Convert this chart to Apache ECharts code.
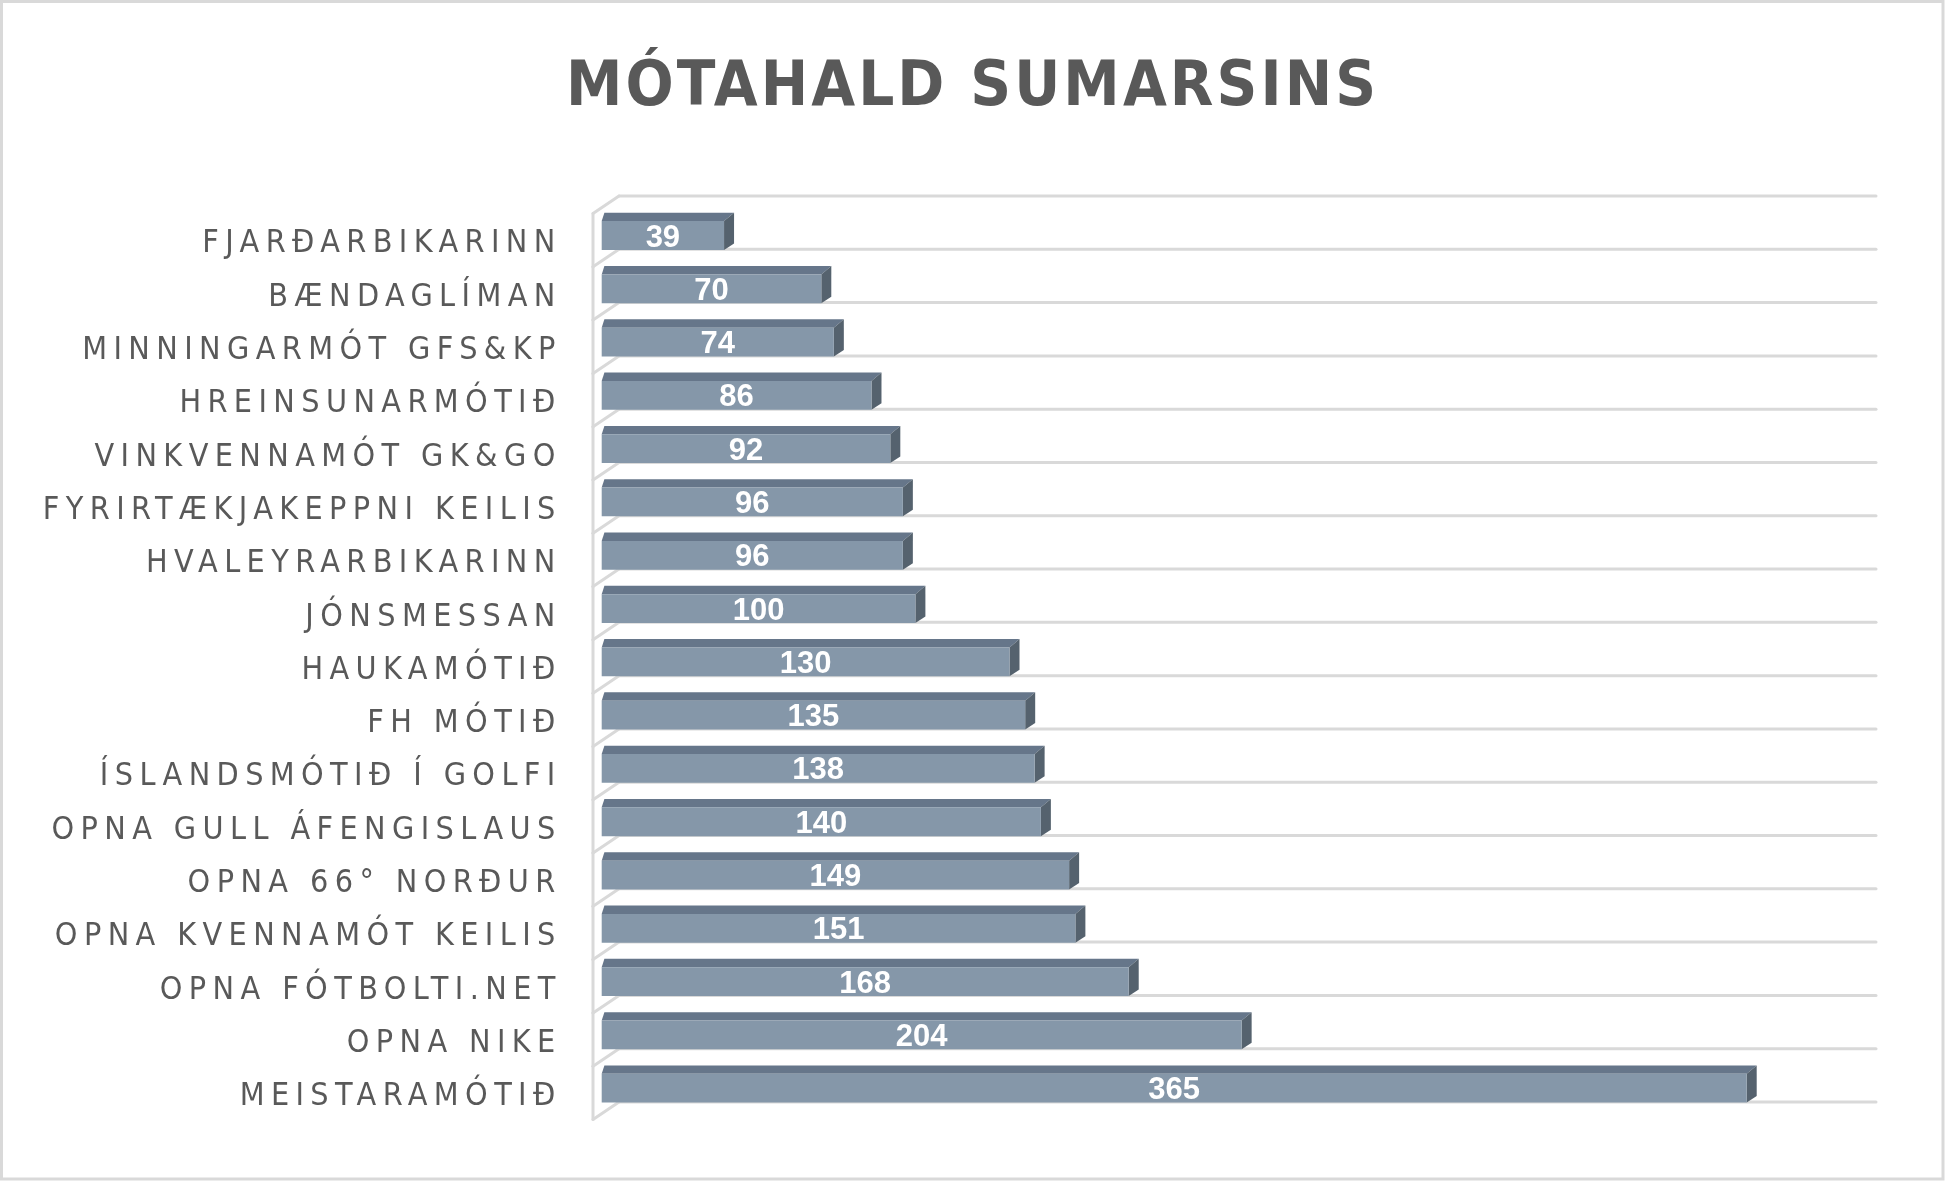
<!DOCTYPE html>
<html>
<head>
<meta charset="utf-8">
<script src="https://cdn.jsdelivr.net/npm/echarts@6/dist/echarts.min.js"></script>
<style>
html,body{margin:0;padding:0;background:#fff;}
#c{width:1945px;height:1181px;}
</style>
</head>
<body>
<div id="c"></div>
<script>
// ---- data ----
const titleText = 'MÓTAHALD SUMARSINS';
const categories = [
  'FJARÐARBIKARINN',
  'BÆNDAGLÍMAN',
  'MINNINGARMÓT GFS&KP',
  'HREINSUNARMÓTIÐ',
  'VINKVENNAMÓT GK&GO',
  'FYRIRTÆKJAKEPPNI KEILIS',
  'HVALEYRARBIKARINN',
  'JÓNSMESSAN',
  'HAUKAMÓTIÐ',
  'FH MÓTIÐ',
  'ÍSLANDSMÓTIÐ Í GOLFI',
  'OPNA GULL ÁFENGISLAUS',
  'OPNA 66° NORÐUR',
  'OPNA KVENNAMÓT KEILIS',
  'OPNA FÓTBOLTI.NET',
  'OPNA NIKE',
  'MEISTARAMÓTIÐ'
];
const values = [39, 70, 74, 86, 92, 96, 96, 100, 130, 135, 138, 140, 149, 151, 168, 204, 365];
const axisMax = 400;

// letter spacing for the spaced caps texts (canvas native letterSpacing)
(function () {
  const P = CanvasRenderingContext2D.prototype;
  const orig = P.fillText;
  P.fillText = function (t, x, y, mw) {
    const f = this.font || '';
    let ls = '0px';
    const m = f.match(/(\d+(?:\.\d+)?)px/);
    if (f.indexOf('Condensed') >= 0 && m) {
      const s = parseFloat(m[1]);
      ls = (s >= 50 ? 3.1 : 6.4) + 'px';
    }
    try { this.letterSpacing = ls; } catch (e) {}
    return mw === undefined ? orig.call(this, t, x, y) : orig.call(this, t, x, y, mw);
  };
})();

const chart = echarts.init(document.getElementById('c'), null, {renderer: 'canvas', width: 1945, height: 1181});

const WALL = '#d9d9d9';
const FRONT = '#8597a9';
const TOP = '#66768a';
const SIDE = '#55626e';
const LABEL_FONT = '"DejaVu Sans Condensed", "DejaVu Sans", sans-serif';

const option = {
  backgroundColor: '#ffffff',
  animation: false,
  title: {
    text: titleText,
    left: 566,
    top: 57,
    padding: 0,
    textStyle: {
      fontFamily: LABEL_FONT,
      fontWeight: 'bold',
      fontSize: 63,
      lineHeight: 63,
      color: '#595959'
    }
  },
  graphic: [{
    type: 'rect',
    shape: {x: 1.5, y: 1.5, width: 1941.5, height: 1177.5},
    style: {fill: 'none', stroke: '#d9d9d9', lineWidth: 3},
    silent: true
  }],
  grid: [
    {left: 601.7, top: 196, width: 1254.8, height: 906},
    {left: 601.7, top: 217.5, width: 1254.8, height: 906}
  ],
  xAxis: [
    {type: 'value', min: 0, max: axisMax, show: false, gridIndex: 0},
    {type: 'value', min: 0, max: axisMax, show: false, gridIndex: 1}
  ],
  yAxis: [
    {
      type: 'category', data: categories, inverse: true, gridIndex: 0,
      axisLine: {show: false}, axisTick: {show: false}, splitLine: {show: false},
      axisLabel: {show: false}
    },
    {
      type: 'category', data: categories, inverse: true, gridIndex: 1,
      axisLine: {show: false}, axisTick: {show: false}, splitLine: {show: false},
      axisLabel: {
        interval: 0,
        showMinLabel: true,
        showMaxLabel: true,
        margin: 40,
        fontFamily: LABEL_FONT,
        fontSize: 32,
        lineHeight: 32,
        color: '#595959'
      }
    }
  ],
  series: [
    {
      type: 'custom',
      name: 'walls',
      silent: true,
      z: 1,
      xAxisIndex: 0, yAxisIndex: 0,
      data: categories.map((c, i) => [0, i]),
      renderItem: function (params, api) {
        const i = api.value(1);
        const p0 = api.coord([0, i]);
        const pm = api.coord([axisMax, i]);
        const bh = api.size([0, 1])[1];
        const top = p0[1] - bh / 2, bot = p0[1] + bh / 2;
        const xb0 = p0[0] + 17.3, xb1 = pm[0] + 19.5, xf = p0[0] - 8.7, dy = 17.5;
        const ls = {stroke: WALL, lineWidth: 3, lineCap: 'round'};
        const ch = [];
        ch.push({type: 'line', shape: {x1: xb0, y1: bot, x2: xb1, y2: bot}, style: ls});
        ch.push({type: 'line', shape: {x1: xf, y1: bot + dy, x2: xb0, y2: bot}, style: ls});
        ch.push({type: 'line', shape: {x1: xf, y1: top + dy, x2: xf, y2: bot + dy}, style: ls});
        if (i === 0) {
          ch.push({type: 'line', shape: {x1: xb0, y1: top, x2: xb1, y2: top}, style: ls});
          ch.push({type: 'line', shape: {x1: xf, y1: top + dy, x2: xb0, y2: top}, style: ls});
        }
        return {type: 'group', children: ch};
      }
    },
    {
      type: 'custom',
      name: 'Mót',
      z: 2,
      xAxisIndex: 0, yAxisIndex: 0,
      data: values.map((v, i) => [v, i]),
      renderItem: function (params, api) {
        const v = api.value(0), i = api.value(1);
        const p0 = api.coord([0, i]);
        const p1 = api.coord([v, i]);
        const bh = api.size([0, 1])[1];
        const yb = p0[1] + bh / 2 + 0.6;
        const h = bh * 0.54;
        const yt = yb - h;
        const x0 = p0[0], x1 = p1[0];
        const dx = 10, dyT = 8.4, dxl = 2.7, dyB = 6.5;
        return {
          type: 'group',
          children: [
            {type: 'polygon', shape: {points: [[x0, yt], [x1, yt], [x1 + dx, yt - dyT], [x0 + dxl, yt - dyT]]}, style: {fill: TOP}},
            {type: 'polygon', shape: {points: [[x1, yt], [x1 + dx, yt - dyT], [x1 + dx, yb - dyB], [x1, yb]]}, style: {fill: SIDE}},
            {type: 'rect', shape: {x: x0, y: yt, width: x1 - x0, height: h}, style: {fill: FRONT}},
            {type: 'text', style: {
              text: String(v), x: (x0 + x1) / 2, y: yt + h / 2 + 2.5,
              align: 'center', verticalAlign: 'middle',
              fill: '#ffffff', fontSize: 31, fontWeight: 'bold',
              fontFamily: '"Liberation Sans", Arial, sans-serif'
            }}
          ]
        };
      }
    }
  ]
};
chart.setOption(option);
</script>
</body>
</html>
